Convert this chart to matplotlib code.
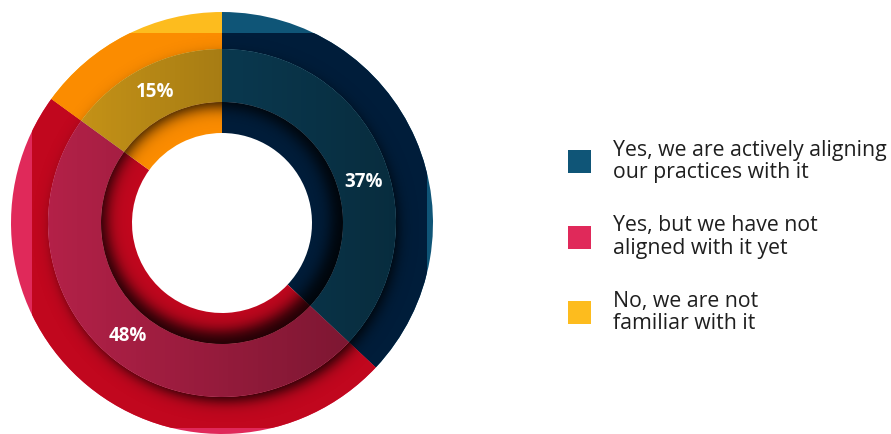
import numpy as np
import matplotlib.pyplot as plt
from matplotlib.patches import Wedge, Rectangle, Polygon

# survey answers and their shares (%)
answers = ["Yes, we are actively aligning\nour practices with it",
           "Yes, but we have not\naligned with it yet",
           "No, we are not\nfamiliar with it"]
shares = [37, 48, 15]

bright = ["#0f5577", "#e0295a", "#fdbc1e"]
deep = ["#001d3a", "#c1071e", "#fb8c00"]

plt.rcParams['font.family'] = ['Open Sans', 'DejaVu Sans']

fig = plt.figure(figsize=(8.91, 4.34), dpi=100)
ax = fig.add_axes([0, 0, 1, 1])

# axes units are pixels, y pointing up
cx, cy = 222, 211
r_out, r_mid, r_in, r_hole = 211, 174, 121, 90


def ring(radius, width, colors, z, **kw):
    return ax.pie(shares, colors=colors, radius=radius, center=(cx, cy),
                  startangle=90, counterclock=False,
                  wedgeprops=dict(width=width, linewidth=0, zorder=z), **kw)


def annulus(radius, width):
    return Wedge((cx, cy), radius, 0, 360, width=width, transform=ax.transData)


# pixel grid for the shading layers
xs = np.arange(0, 450) + 0.5
ys = np.arange(0, 434) + 0.5
X, Y = np.meshgrid(xs, ys)


def shade(alpha, clip, z):
    img = np.zeros(alpha.shape + (4,))
    img[..., 3] = np.clip(alpha, 0, 1)
    im = ax.imshow(img, extent=(0, 450, 0, 434), origin='lower',
                   zorder=z, interpolation='bilinear')
    im.set_clip_path(clip)


# outer ring: bright edge, darker square inside
ring(r_out, r_out - r_mid, bright, 1)
box = Polygon([(32, 6), (427, 6), (427, 401), (32, 401)], closed=True,
              transform=ax.transData)
deep_wedges = ring(r_out, r_out - r_mid, deep, 2)[0]
for w in deep_wedges:
    w.set_clip_path(box)
    w.set_clip_on(True)  # pie turns clipping off for its wedges

# drop shadow of the middle ring onto the outer one
d = np.hypot(X - (cx + 4), Y - (cy - 6))
shade(0.85 / (1 + np.exp((d - 172) / 4.0)), annulus(r_out, r_out - r_mid), 3)

# middle ring with the percentage labels
_, _, pct = ring(r_mid, r_mid - r_in, bright, 4,
                 autopct=lambda p: f"{p:.0f}%", pctdistance=147 / r_mid,
                 textprops=dict(color='white', fontsize=13.5,
                                fontweight='bold', zorder=9))
# first label sits a bit lower along its wedge
ang = np.deg2rad(16)
pct[0].set_position((cx + 147 * np.cos(ang), cy + 147 * np.sin(ang)))

# left-to-right darkening of the middle ring
fac = 0.80 - 0.28 * (X - 48) / 348
shade(1 - fac, annulus(r_mid, r_mid - r_in), 5)

# inner ring with a soft inner shadow
ring(r_in, r_in - r_hole, deep, 6)
d = np.hypot(X - (cx - 3), Y - (cy + 4))
shade(0.85 / (1 + np.exp((112 - d) / 4.5)), annulus(r_in, r_in - r_hole), 7)

# legend
for i, (name, col) in enumerate(zip(answers, bright)):
    yc = 272.5 - i * 75.5
    ax.add_patch(Rectangle((568, yc - 11.5), 23, 23, color=col, linewidth=0))
    ax.text(613, yc, name, ha='left', va='center', fontsize=15.3,
            color='#1f1f1f', linespacing=1.1)

ax.set_xlim(0, 891)
ax.set_ylim(0, 434)
ax.set_aspect('auto')
ax.axis('off')

fig.savefig("out.png", dpi=100)
